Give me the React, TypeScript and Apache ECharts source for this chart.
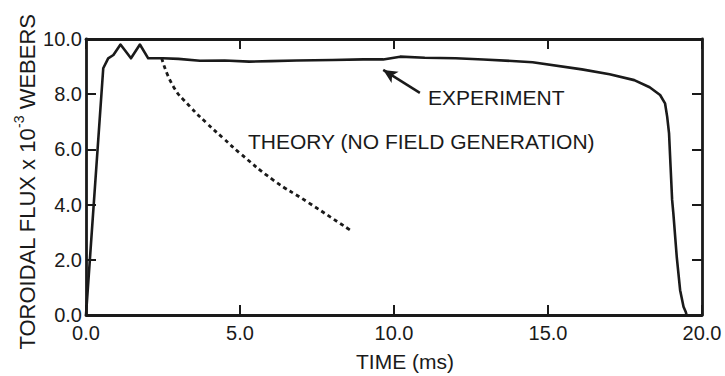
import React, { useEffect, useRef } from "react";
import * as echarts from "echarts";

// Measured toroidal flux (time in ms, flux in 10^-3 Wb)
const experimentTime = [0, 0.56, 0.72, 0.89, 1.12, 1.46, 1.75, 2.02, 2.5, 3.0, 3.7, 4.5, 5.3, 6.0, 6.84, 8.0, 9.0, 9.65, 10.2, 11.0, 12.0, 12.9, 14.5, 16.1, 17.0, 17.8, 18.3, 18.64, 18.8, 18.87, 18.93, 18.98, 19.03, 19.07, 19.18, 19.29, 19.4, 19.47, 19.5];
const experimentFlux = [0, 8.94, 9.3, 9.42, 9.8, 9.3, 9.8, 9.3, 9.3, 9.28, 9.21, 9.22, 9.18, 9.2, 9.22, 9.24, 9.26, 9.26, 9.36, 9.32, 9.3, 9.26, 9.16, 8.9, 8.72, 8.51, 8.25, 7.97, 7.67, 7.18, 6.58, 5.37, 4.17, 3.68, 2.11, 0.9, 0.3, 0.12, 0];

// Theoretical decay without field generation
const theoryTime = [2.46, 2.84, 3.38, 3.92, 4.46, 5.0, 6.08, 7.17, 8.57];
const theoryFlux = [9.3, 8.27, 7.55, 6.95, 6.4, 5.86, 4.89, 4.11, 3.08];

// Arrow pointing from the label to the experimental trace
const arrowTail = [10.84, 8.05];
const arrowHead = [9.65, 8.88];

const xTicks = [0, 5, 10, 15, 20];
const yTicks = [0, 2, 4, 6, 8, 10];

const FONT = "'Liberation Sans', Arial, Helvetica, sans-serif";
const INK = "#1a1a1a";

export default function App() {
  const ref = useRef<HTMLDivElement>(null);

  useEffect(() => {
    if (!ref.current) return;
    const chart = echarts.init(ref.current, undefined, { renderer: "svg" });

    const axisLine = { show: true, onZero: false, lineStyle: { color: INK, width: 2.8 } };
    const tick = { show: true, inside: true, length: 10, lineStyle: { color: INK, width: 2 } };

    chart.setOption({
      animation: false,
      backgroundColor: "#ffffff",
      grid: { left: 86, right: 23, top: 39, bottom: 61, containLabel: false },
      xAxis: [
        {
          type: "value",
          min: xTicks[0],
          max: xTicks[xTicks.length - 1],
          interval: 5,
          position: "bottom",
          axisLine,
          axisTick: tick,
          splitLine: { show: false },
          axisLabel: {
            margin: 8,
            color: INK,
            fontFamily: FONT,
            fontSize: 20,
            formatter: (v: number) => v.toFixed(1),
          },
        },
        {
          type: "value",
          min: xTicks[0],
          max: xTicks[xTicks.length - 1],
          interval: 5,
          position: "top",
          axisLine,
          axisTick: tick,
          splitLine: { show: false },
          axisLabel: { show: false },
        },
      ],
      yAxis: [
        {
          type: "value",
          min: yTicks[0],
          max: yTicks[yTicks.length - 1],
          interval: 2,
          position: "left",
          axisLine,
          axisTick: tick,
          splitLine: { show: false },
          axisLabel: {
            margin: 4,
            color: INK,
            fontFamily: FONT,
            fontSize: 20,
            formatter: (v: number) => v.toFixed(1),
          },
        },
        {
          type: "value",
          min: yTicks[0],
          max: yTicks[yTicks.length - 1],
          interval: 2,
          position: "right",
          axisLine,
          axisTick: tick,
          splitLine: { show: false },
          axisLabel: { show: false },
        },
      ],
      series: [
        {
          type: "line",
          name: "EXPERIMENT",
          data: experimentTime.map((t, i) => [t, experimentFlux[i]]),
          showSymbol: false,
          smooth: false,
          lineStyle: { color: INK, width: 2.6, join: "round" },
          markLine: {
            silent: true,
            symbol: ["none", "arrow"],
            symbolSize: [10, 14],
            label: { show: false },
            lineStyle: { color: INK, width: 2.5, type: "solid" },
            data: [[{ coord: arrowTail }, { coord: arrowHead }]],
          },
        },
        {
          type: "line",
          name: "THEORY",
          data: theoryTime.map((t, i) => [t, theoryFlux[i]]),
          showSymbol: false,
          smooth: true,
          lineStyle: { color: INK, width: 2.8, type: [4, 3.5] },
        },
      ],
      graphic: [
        {
          type: "text",
          x: 428,
          y: 97,
          style: {
            text: "EXPERIMENT",
            fill: INK,
            font: `21px ${FONT}`,
            textAlign: "left",
            textVerticalAlign: "middle",
          },
        },
        {
          type: "text",
          x: 248,
          y: 141,
          style: {
            text: "THEORY (NO FIELD GENERATION)",
            fill: INK,
            font: `21px ${FONT}`,
            textAlign: "left",
            textVerticalAlign: "middle",
          },
        },
        {
          type: "text",
          x: 405,
          y: 361,
          style: {
            text: "TIME (ms)",
            fill: INK,
            font: `21px ${FONT}`,
            textAlign: "center",
            textVerticalAlign: "middle",
          },
        },
        {
          type: "text",
          x: 25,
          y: 182,
          rotation: Math.PI / 2,
          style: {
            text: "{n|TOROIDAL FLUX x 10}{s|-3}{n| WEBERS}",
            fill: INK,
            textAlign: "center",
            textVerticalAlign: "middle",
            rich: {
              n: { fontFamily: FONT, fontSize: 22, lineHeight: 27, fill: INK, verticalAlign: "bottom" },
              s: { fontFamily: FONT, fontSize: 14, lineHeight: 14, fill: INK, verticalAlign: "top" },
            },
          },
        },
      ],
    });

    return () => chart.dispose();
  }, []);

  return (
    <div
      ref={ref}
      style={{ position: "fixed", left: 0, top: 0, width: 725, height: 376, background: "#fff" }}
    />
  );
}
